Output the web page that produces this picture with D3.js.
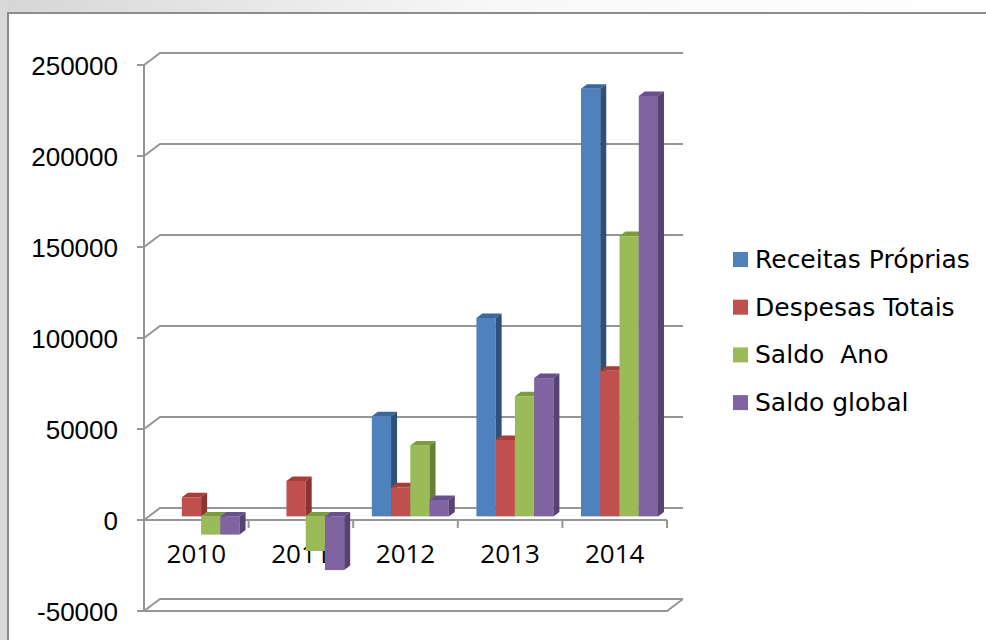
<!DOCTYPE html>
<html><head><meta charset="utf-8">
<script src="https://cdn.jsdelivr.net/npm/d3@7"></script>
<style>body{margin:0;background:#fff;} svg{display:block}</style>
</head><body><svg id="c" width="986" height="640"></svg>
<script>
const categories = ["2010","2011","2012","2013","2014"];
const seriesNames = ["Receitas Próprias","Despesas Totais","Saldo  Ano","Saldo global"];
const receitasProprias = [0, 0, 55000, 109000, 235000];
const despesasTotais = [10500, 19500, 16000, 42000, 80000];
const saldoAno = [-10000, -19000, 39000, 66000, 154000];
const saldoGlobal = [-10000, -29500, 9000, 76000, 231000];
const yTicks = [-50000, 0, 50000, 100000, 150000, 200000, 250000];

const seriesValues = [receitasProprias, despesasTotais, saldoAno, saldoGlobal];
const faceColors = [
  {front:"#4F81BD", top:"#3d6797", side:"#2f5079"},
  {front:"#C0504D", top:"#a2403d", side:"#8a3432"},
  {front:"#9BBB59", top:"#7c9a40", side:"#677f35"},
  {front:"#8064A2", top:"#68518a", side:"#574373"}
];

const svg = d3.select("#c");
// background frame
const defs = svg.append("defs");
const g1 = defs.append("linearGradient").attr("id","topg").attr("x1","0").attr("x2","1").attr("y1","0").attr("y2","0");
g1.append("stop").attr("offset","0").attr("stop-color","#d6d6d6");
g1.append("stop").attr("offset","0.5").attr("stop-color","#f8f8f8");
g1.append("stop").attr("offset","1").attr("stop-color","#ffffff");
svg.append("rect").attr("width",986).attr("height",640).attr("fill","url(#topg)");
svg.append("rect").attr("x",0).attr("y",0).attr("width",8).attr("height",640).attr("fill","#dadada");
svg.append("rect").attr("x",8).attr("y",13).attr("width",990).attr("height",640)
  .attr("fill","#fff").attr("stroke","#8c8c8c").attr("stroke-width",2);

// scales
const x0 = 144, x1 = 667, DX = 16, DY = -12;
const y = d3.scaleLinear().domain([-50000, 250000]).range([611, 65]);
const xCat = d3.scaleBand().domain(categories).range([x0, x1]).paddingInner(0.264).paddingOuter(0.132);
const xCatFull = d3.scaleBand().domain(categories).range([x0, x1]);
const xSer = d3.scaleBand().domain(seriesNames).range([0, xCat.bandwidth()]);

const grid = svg.append("g").attr("fill","none").attr("stroke","#969696").attr("stroke-width",2);
yTicks.forEach(v => {
  const yf = y(v);
  grid.append("path").attr("d", `M${x0-7},${yf}H${x0}L${x0+DX},${yf+DY}H${x1+DX}`);
});
grid.append("path").attr("d", `M${x0},${y(250000)}V${y(-50000)}`);
// floor at minimum
grid.append("path").attr("d", `M${x0},${y(-50000)}H${x1}L${x1+DX},${y(-50000)+DY}`);
// zero plane front line with category ticks
grid.append("path").attr("d", `M${x0},${y(0)}H${x1}`);
categories.forEach((c,i) => {
  const xx = xCatFull(c) + xCatFull.bandwidth();
  grid.append("path").attr("d", `M${xx},${y(0)}v8`);
});

// axis labels
const yl = svg.append("g").attr("font-family","'Liberation Sans', Arial, sans-serif").attr("font-size",26).attr("fill","#000").attr("text-anchor","end");
yTicks.forEach(v => {
  yl.append("text").attr("x",118).attr("y",y(v)+9.5).text(v);
});
const xl = svg.append("g").attr("font-family","'Open Sans', 'Noto Sans', sans-serif").attr("font-size",26).attr("fill","#000").attr("text-anchor","middle");
categories.forEach(c => {
  xl.append("text").attr("x", xCatFull(c) + xCatFull.bandwidth()/2).attr("y", 563).text(c);
});

// bars
const d0 = 0.3, dep = 0.375;
const fx = DX*d0, fy = DY*d0, bx = DX*dep, by = DY*dep;
const bars = svg.append("g");
categories.forEach((c, ci) => {
  seriesNames.forEach((s, si) => {
    const v = seriesValues[si][ci];
    if (v === 0) return;
    const left = xCat(c) + xSer(s) + fx;
    const w = xSer.bandwidth();
    const yTop = Math.min(y(v), y(0)) + fy;
    const yBot = Math.max(y(v), y(0)) + fy;
    const col = faceColors[si];
    bars.append("rect").attr("x", left).attr("y", yTop).attr("width", w).attr("height", yBot - yTop).attr("fill", col.front);
    bars.append("path").attr("d", `M${left},${yTop}l${bx},${by}h${w}l${-bx},${-by}Z`).attr("fill", col.top);
    bars.append("path").attr("d", `M${left+w},${yTop}l${bx},${by}V${yBot+by}l${-bx},${-by}Z`).attr("fill", col.side);
  });
});

// legend
const lg = svg.append("g").attr("font-family","'DejaVu Sans', sans-serif").attr("font-size",25).attr("fill","#000");
seriesNames.forEach((s, i) => {
  const yy = 252 + i*47.7;
  lg.append("rect").attr("x",733).attr("y",yy).attr("width",15).attr("height",15).attr("fill",faceColors[i].front);
  lg.append("text").attr("x",755).attr("y",yy+16).style("white-space","pre").text(s);
});
</script></body></html>
